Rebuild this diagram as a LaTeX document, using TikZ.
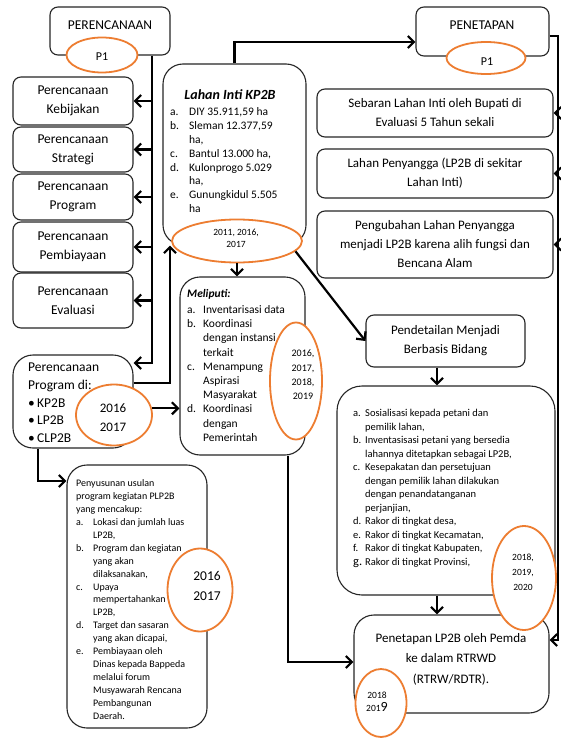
\documentclass[tikz,border=0pt]{standalone}
\usepackage{fontspec}
\setmainfont{Carlito}
\usetikzlibrary{shapes.geometric,arrows.meta}
\definecolor{orangeC}{HTML}{ED7D31}
\begin{document}
\begin{tikzpicture}[x=1pt,y=-1pt,
  box/.style={draw=black!85, line width=1.1pt, fill=white, inner sep=0pt, rounded corners=#1},
  box/.default=8pt,
  oval/.style={ellipse, draw=orangeC, line width=1.8pt, fill=white, inner sep=0pt},
  conn/.style={line width=2.2pt, draw=black},
  arr/.style={conn, -{Straight Barb[length=6pt,width=12pt]}},
  fbig/.style={font=\fontsize{13.5}{19}\selectfont, align=center, inner sep=0pt},
  fmid/.style={font=\fontsize{13}{19}\selectfont, align=center, inner sep=0pt},
  fhead/.style={font=\fontsize{13.5}{16}\selectfont, inner sep=0pt},
  lst/.style={anchor=base west, inner sep=0pt},
  yr/.style={align=center, inner sep=0pt}
]
\useasboundingbox (0,0) rectangle (561,738);

% ---------------- boxes ----------------
\node[box, minimum width=120pt, minimum height=48pt] (perenc) at (110,31) {};
\node[box, minimum width=133pt, minimum height=49pt] (penet) at (482.5,31.5) {};
\node[box, minimum width=120pt, minimum height=48pt, fbig] (k1) at (73,101) {Perencanaan\\Kebijakan};
\node[box, minimum width=120pt, minimum height=45pt, fbig] (k2) at (73,149.5) {Perencanaan\\Strategi};
\node[box, minimum width=120pt, minimum height=46pt, fbig] (k3) at (73,197) {Perencanaan\\Program};
\node[box, minimum width=120pt, minimum height=50pt, fbig] (k4) at (73,247) {Perencanaan\\Pembiayaan};
\node[box, minimum width=120pt, minimum height=55pt, fbig] (k5) at (73,300.5) {Perencanaan\\Evaluasi};
\node[box=20pt, minimum width=143pt, minimum height=181pt] (lahan) at (234.5,154.5) {};
\node[box, minimum width=236pt, minimum height=48pt, fmid] (r1) at (435,113) {Sebaran Lahan Inti oleh Bupati di\\Evaluasi 5 Tahun sekali};
\node[box, minimum width=236pt, minimum height=49pt, fmid] (r2) at (435,173.5) {Lahan Penyangga (LP2B di sekitar\\Lahan Inti)};
\node[box, minimum width=236pt, minimum height=67pt, fmid] (r3) at (435,244.5) {Pengubahan Lahan Penyangga\\menjadi LP2B karena alih fungsi dan\\Bencana Alam};
\node[box=20pt, minimum width=125pt, minimum height=178pt] (meli) at (242.5,366) {};
\node[box, minimum width=159pt, minimum height=52pt, fmid] (pend) at (445.5,341) {Pendetailan Menjadi\\Berbasis Bidang};
\node[box=25pt, minimum width=218pt, minimum height=209pt] (big) at (446,490.5) {};
\node[box=20pt, minimum width=195pt, minimum height=98pt] (lp2b) at (451.5,664) {};
\node[box=20pt, minimum width=120pt, minimum height=93pt] (prog) at (73,401.5) {};
\node[box=20pt, minimum width=140pt, minimum height=263pt] (pen) at (137,596.5) {};

% ---------------- ovals ----------------
\node[oval, minimum width=71pt, minimum height=35pt] (p1a) at (102,55) {};
\node[oval, minimum width=79pt, minimum height=32pt] (p1b) at (486,58) {};
\node[oval, minimum width=130pt, minimum height=43pt] (e1) at (237,241) {};
\node[oval, minimum width=52pt, minimum height=117pt] (e2) at (296,381) {};
\node[oval, minimum width=64pt, minimum height=104pt] (e3) at (524,578) {};
\node[oval, minimum width=51pt, minimum height=68pt] (e4) at (381,703) {};
\node[oval, minimum width=76pt, minimum height=61pt] (e5) at (114,415) {};
\node[oval, minimum width=65pt, minimum height=83pt] (e6) at (200,590) {};

% ---------------- texts ----------------
\node[fhead] (perenct) at (110,25) {PERENCANAAN};
\node[fhead] (penett) at (482,25) {PENETAPAN};
\node[font=\fontsize{12}{14}\selectfont, inner sep=0pt] (p1at) at (102,57) {P1};
\node[font=\fontsize{12}{14}\selectfont, inner sep=0pt] (p1bt) at (487,62) {P1};

\node[font=\bfseries\itshape\fontsize{14}{16}\selectfont, inner sep=0pt] (lahant) at (230,95) {Lahan Inti KP2B};
\node[lst, font=\fontsize{11.5}{13.9}\selectfont] (lahanl) at (170,115.5) {\begin{tabular}[t]{@{}p{19pt}@{}l@{}}
a. & DIY 35.911,59 ha\\
b. & Sleman 12.377,59\\
   & ha,\\
c. & Bantul 13.000 ha,\\
d. & Kulonprogo 5.029\\
   & ha,\\
e. & Gunungkidul 5.505\\
   & ha
\end{tabular}};

\node[lst, font=\bfseries\itshape\fontsize{11.5}{14}\selectfont] (melit) at (187,297) {Meliputi:};
\node[lst, font=\fontsize{11.5}{14.2}\selectfont] (melil) at (187,313.5) {\begin{tabular}[t]{@{}p{16pt}@{}l@{}}
a. & Inventarisasi data\\
b. & Koordinasi\\
   & dengan instansi\\
   & terkait\\
c. & Menampung\\
   & Aspirasi\\
   & Masyarakat\\
d. & Koordinasi\\
   & dengan\\
   & Pemerintah
\end{tabular}};

\node[lst, font=\fontsize{10.5}{13.5}\selectfont] (bigl) at (353,416.5) {\begin{tabular}[t]{@{}p{12pt}@{}l@{}}
a. & Sosialisasi kepada petani dan\\
   & pemilik lahan,\\
b. & Inventasisasi petani yang bersedia\\
   & lahannya ditetapkan sebagai LP2B,\\
c. & Kesepakatan dan persetujuan\\
   & dengan pemilik lahan dilakukan\\
   & dengan penandatanganan\\
   & perjanjian,\\
d. & Rakor di tingkat desa,\\
e. & Rakor di tingkat Kecamatan,\\
f. & Rakor di tingkat Kabupaten,\\
{\fontsize{12.5}{13.5}\selectfont g.} & Rakor di tingkat Provinsi,
\end{tabular}};

\node[lst, font=\fontsize{10}{12.94}\selectfont] (penl) at (76,486.5) {\begin{tabular}[t]{@{}p{17pt}@{}l@{}}
\multicolumn{2}{@{}l@{}}{Penyusunan usulan}\\
\multicolumn{2}{@{}l@{}}{program kegiatan PLP2B}\\
\multicolumn{2}{@{}l@{}}{yang mencakup:}\\
a. & Lokasi dan jumlah luas\\
   & LP2B,\\
b. & Program dan kegiatan\\
   & yang akan\\
   & dilaksanakan,\\
c. & Upaya\\
   & mempertahankan\\
   & LP2B,\\
d. & Target dan sasaran\\
   & yang akan dicapai,\\
e. & Pembiayaan oleh\\
   & Dinas kepada Bappeda\\
   & melalui forum\\
   & Musyawarah Rencana\\
   & Pembangunan\\
   & Daerah.
\end{tabular}};

\node[lst, font=\fontsize{13.5}{17.8}\selectfont] (progl) at (28,371.5) {\begin{tabular}[t]{@{}l@{}}
Perencanaan\\
Program di:\\
•\,KP2B\\
•\,LP2B\\
•\,CLP2B
\end{tabular}};

\node[font=\fontsize{13}{20.5}\selectfont, align=center, inner sep=0pt] (lp2bt) at (451,659) {Penetapan LP2B oleh Pemda\\ke dalam RTRWD\\(RTRW/RDTR).};

\node[yr, font=\fontsize{9.5}{12}\selectfont] (e1t) at (236,238.5) {2011, 2016,\\2017};
\node[yr, font=\fontsize{10}{14.3}\selectfont] (e2t) at (303,375) {2016,\\2017,\\2018,\\2019};
\node[yr, font=\fontsize{9.5}{15}\selectfont] (e3t) at (523,572) {2018,\\2019,\\2020};
\node[yr, font=\fontsize{9.5}{13}\selectfont] (e4t) at (377,702) {2018\\201{\fontsize{14}{13}\selectfont 9}};
\node[yr, font=\fontsize{13}{19}\selectfont] (e5t) at (113,417.5) {2016\\2017};
\node[yr, font=\fontsize{13.5}{20}\selectfont] (e6t) at (207,586) {2016\\2017};

% ---------------- connectors ----------------
\coordinate (vx) at (152,0);
\coordinate (vb) at (152,363);
\draw[arr] (perenc.south -| vx) -- (vb) -- (prog.east |- vb);
\foreach \k in {k1,k2,k3,k4,k5} {\draw[arr] (\k.east -| vx) -- (\k.east);}

\coordinate (h1) at (0,42);
\draw[arr] (lahan.north) -- (lahan.north |- h1) -- (penet.west |- h1);

\coordinate (rt) at (558,36);
\coordinate (rb) at (558,640);
\draw[arr] (penet.east |- rt) -- (rt) -- (rb) -- (lp2b.east |- rb);
\foreach \r in {r1,r2,r3} {\draw[arr] (\r.east -| rt) -- (\r.east);}

\draw[arr] (e1.south) -- (e1.south |- meli.north);
\draw[arr] (e1.-10) -- (pend.west);

\coordinate (mx) at (288,662);
\draw[arr] (meli.south -| mx) -- (mx) -- (lp2b.west |- mx);

\coordinate (ax) at (437,0);
\draw[arr] (pend.south -| ax) -- (ax |- big.north);
\draw[arr] (big.south -| ax) -- (ax |- lp2b.north);

\draw[arr] (e5.10) -- (meli.west |- e5.10);

\coordinate (c1) at (170,383);
\draw[arr] (prog.east |- c1) -- (c1) -- (c1 |- lahan.south);

\coordinate (c2) at (38,481);
\draw[arr] (prog.south -| c2) -- (c2) -- (pen.west |- c2);
\end{tikzpicture}
\end{document}
